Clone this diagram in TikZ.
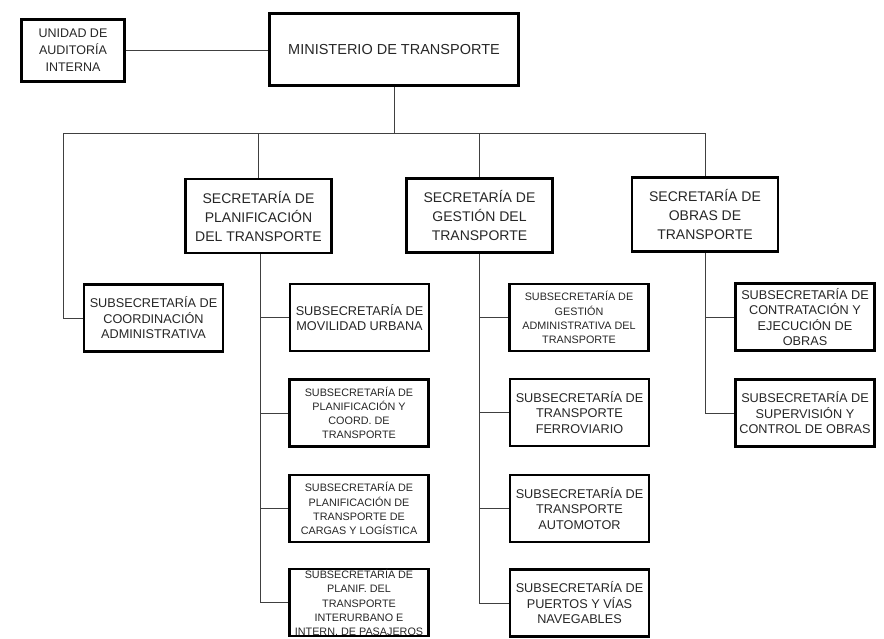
\documentclass[tikz,border=0pt]{standalone}
\usepackage{fontspec}
\setmainfont{Liberation Sans}
\begin{document}
\begin{tikzpicture}[x=1pt,y=-1pt,
  box/.style={draw=black, line width=2.8pt, align=center, inner sep=0pt, text=black!85},
  mbox/.style={box, line width=3.2pt, minimum width=249pt, minimum height=72pt, font=\fontsize{14.5}{18}\selectfont},
  ubox/.style={box, minimum width=103pt, minimum height=62pt, font=\fontsize{12.5}{17}\selectfont},
  sbox/.style={box, minimum width=146pt, minimum height=74pt, font=\fontsize{14}{19}\selectfont},
  subbig/.style={box, minimum width=139pt, minimum height=67pt, font=\fontsize{12.7}{15.5}\selectfont},
  subsmall/.style={box, minimum width=139pt, minimum height=67pt, font=\fontsize{10.8}{14.2}\selectfont},
  conn/.style={draw=black!75, line width=0.9pt}]
\useasboundingbox (0,0) rectangle (884,638);

\node[mbox] (min) at (394,49.5) {MINISTERIO DE TRANSPORTE};
\node[ubox] (uni) at (73,50.5) {UNIDAD DE\\AUDITORÍA\\INTERNA};

\node[sbox] (secP) at (258.5,216) {SECRETARÍA DE\\PLANIFICACIÓN\\DEL TRANSPORTE};
\node[sbox] (secG) at (479.5,215.5) {SECRETARÍA DE\\GESTIÓN DEL\\TRANSPORTE};
\node[sbox] (secO) at (705,214.5) {SECRETARÍA DE\\OBRAS DE\\TRANSPORTE};

\node[subbig] (subC) at (153.5,318) {SUBSECRETARÍA DE\\COORDINACIÓN\\ADMINISTRATIVA};

\node[subbig] (movil) at (359.5,317.5) {SUBSECRETARÍA DE\\MOVILIDAD URBANA};
\node[subsmall] (pyc) at (359,413) {SUBSECRETARÍA DE\\PLANIFICACIÓN Y\\COORD. DE\\TRANSPORTE};
\node[subsmall] (cargas) at (359,508.5) {SUBSECRETARÍA DE\\PLANIFICACIÓN DE\\TRANSPORTE DE\\CARGAS Y LOGÍSTICA};
\node[subsmall] (inter) at (359,602.5) {SUBSECRETARÍA DE\\PLANIF. DEL\\TRANSPORTE\\INTERURBANO E\\INTERN. DE PASAJEROS};

\node[subsmall] (gadm) at (579,317.5) {SUBSECRETARÍA DE\\GESTIÓN\\ADMINISTRATIVA DEL\\TRANSPORTE};
\node[subbig] (ferro) at (579.5,412.5) {SUBSECRETARÍA DE\\TRANSPORTE\\FERROVIARIO};
\node[subbig] (auto) at (579.5,508.5) {SUBSECRETARÍA DE\\TRANSPORTE\\AUTOMOTOR};
\node[subbig] (puertos) at (579.5,603) {SUBSECRETARÍA DE\\PUERTOS Y VÍAS\\NAVEGABLES};

\node[subbig] (contr) at (805,317) {SUBSECRETARÍA DE\\CONTRATACIÓN Y\\EJECUCIÓN DE\\OBRAS};
\node[subbig] (superv) at (805,413) {SUBSECRETARÍA DE\\SUPERVISIÓN Y\\CONTROL DE OBRAS};

\coordinate (busL) at (63,133);

% connectors
\draw[conn] (uni.east) -- (uni.east -| min.west);
\draw[conn] (min.south) -- (min.south |- busL);
\draw[conn] (subC.west) -| (busL) -| (secO.north);
\draw[conn] (secP.north) -- (secP.north |- busL);
\draw[conn] (secG.north) -- (secG.north |- busL);

\draw[conn] ([xshift=2pt]secP.south) |- (inter.west);
\draw[conn] ([xshift=2pt]secP.south |- movil.west) -- (movil.west);
\draw[conn] ([xshift=2pt]secP.south |- pyc.west) -- (pyc.west);
\draw[conn] ([xshift=2pt]secP.south |- cargas.west) -- (cargas.west);

\draw[conn] (secG.south) |- (puertos.west);
\draw[conn] (secG.south |- gadm.west) -- (gadm.west);
\draw[conn] (secG.south |- ferro.west) -- (ferro.west);
\draw[conn] (secG.south |- auto.west) -- (auto.west);

\draw[conn] (secO.south) |- (superv.west);
\draw[conn] (secO.south |- contr.west) -- (contr.west);
\end{tikzpicture}
\end{document}
